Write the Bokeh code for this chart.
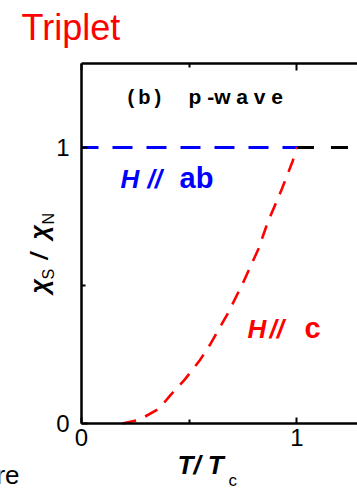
from bokeh.plotting import figure
from bokeh.models import Range1d, FixedTicker, LinearAxis, Label
from bokeh.embed import file_html
from bokeh.resources import INLINE
import math

# ---- data ----
x_ticks = [0, 1]
x_minor = [0.5]
y_ticks = [0, 1]
y_minor = [0.5]
tick_labels = {0: "0", 1: "1"}
x_axis_extent = (0, 1.281)
y_axis_extent = (0, 1.304)

ab_x = [0.0, 1.0]          # H // ab : chi_s/chi_N stays 1 below Tc
ab_y = [1.0, 1.0]
normal_x = [1.0, 1.3]      # normal state above Tc
normal_y = [1.0, 1.0]
c_x = [0.19, 0.27, 0.36, 0.41, 0.48, 0.55, 0.60, 0.68, 0.75, 0.82, 0.865, 0.925, 0.98, 1.0]
c_y = [0.0, 0.014, 0.054, 0.10, 0.16, 0.23, 0.29, 0.40, 0.51, 0.63, 0.73, 0.84, 0.95, 1.0]

FONT = "Liberation Sans"

# pixel scale of the panel: x=0 at px 81, x=1 at px 296.5; y=0 at py 423, y=1 at py 147
SX, OX = 215.46, 81.0
SY, OY = 276.07, 423.0
W, H = 357, 490

p = figure(width=W, height=H,
           x_range=Range1d(-OX / SX, (W - OX) / SX),
           y_range=Range1d((OY - H) / SY, OY / SY),
           output_backend="svg", toolbar_location=None,
           min_border_left=0, min_border_right=0, min_border_top=0, min_border_bottom=0)
p.outline_line_color = None
p.grid.visible = False
p.background_fill_color = "white"
p.border_fill_color = "white"

def style_axis(ax, labels=True):
    ax.axis_line_width = 2.5
    ax.axis_line_color = "black"
    ax.major_tick_line_width = 2
    ax.minor_tick_line_width = 2
    ax.major_tick_in = 6
    ax.major_tick_out = 0
    ax.minor_tick_in = 4
    ax.minor_tick_out = 0
    ax.major_label_text_font = FONT
    ax.major_label_text_font_size = "24px"
    ax.major_label_text_color = "black" if labels else None

xa = p.xaxis[0]
ya = p.yaxis[0]
xa.ticker = FixedTicker(ticks=x_ticks, minor_ticks=x_minor)
ya.ticker = FixedTicker(ticks=y_ticks, minor_ticks=y_minor)
xa.major_label_overrides = tick_labels
ya.major_label_overrides = tick_labels
style_axis(xa)
style_axis(ya)
xa.major_label_standoff = 5
ya.major_label_standoff = 12
xa.fixed_location = y_axis_extent[0]
ya.fixed_location = x_axis_extent[0]
xa.bounds = x_axis_extent
ya.bounds = y_axis_extent

top = LinearAxis(ticker=FixedTicker(ticks=x_ticks, minor_ticks=x_minor))
style_axis(top, labels=False)
top.major_tick_in = 7
top.fixed_location = y_axis_extent[1]
top.bounds = x_axis_extent
p.add_layout(top, "above")

# ---- lines ----
p.line(ab_x, ab_y, line_color="#0000FF", line_width=3, line_dash="20 14", line_dash_offset=3)
p.line(normal_x, normal_y, line_color="black", line_width=3, line_dash="17 17")
p.line(c_x, c_y, line_color="#FF0000", line_width=2.6, line_dash="14 10")

# ---- text annotations (pixel positions converted to data coords) ----
K = 0.34  # empirical baseline correction (fraction of font size)

def dx(px):
    return (px - OX) / SX

def dy(py):
    return (OY - py) / SY

def lab(text, px, py, size, color="black", style="normal", align="left", angle=0.0):
    if angle == 0.0:
        py = py - K * size
    else:
        px = px - K * size
    p.add_layout(Label(x=dx(px), y=dy(py), text=text, text_font=FONT, text_font_size=f"{size}px",
                       text_color=color, text_font_style=style, text_align=align,
                       text_baseline="alphabetic", angle=angle))

lab("Triplet", 21, 39, 36, color="#FF0000")
lab("(\u2009b\u2009)", 127, 103, 20, style="bold")
lab("p -w a v e", 188, 103, 21, style="bold")

lab("H", 120, 187, 26, color="#0000FF", style="bold italic")
lab("//", 147, 187, 26, color="#0000FF", style="bold italic")
lab("ab", 179, 187, 29, color="#0000FF", style="bold")

lab("H", 247, 337, 26, color="#FF0000", style="bold italic")
lab("//", 269, 337, 26, color="#FF0000", style="bold italic")
lab("c", 304, 337, 29, color="#FF0000", style="bold")

# y axis label: chi_S / chi_N (rotated)
r = math.pi / 2
lab("\u03c7", 47, 293, 25, style="bold italic", angle=r)
lab("S", 53, 279, 16, style="normal", angle=r)
lab("/", 47, 259, 23, style="bold italic", angle=r)
lab("\u03c7", 47, 239, 25, style="bold italic", angle=r)
lab("N", 53, 224, 16, style="normal", angle=r)

# x axis label: T / T_c
lab("T/ T", 177, 473, 26, style="bold italic")
lab("c", 228, 486, 17, style="normal")

lab("re", 19, 483, 26, align="right")

open("out.html", "w").write(file_html(p, INLINE))
